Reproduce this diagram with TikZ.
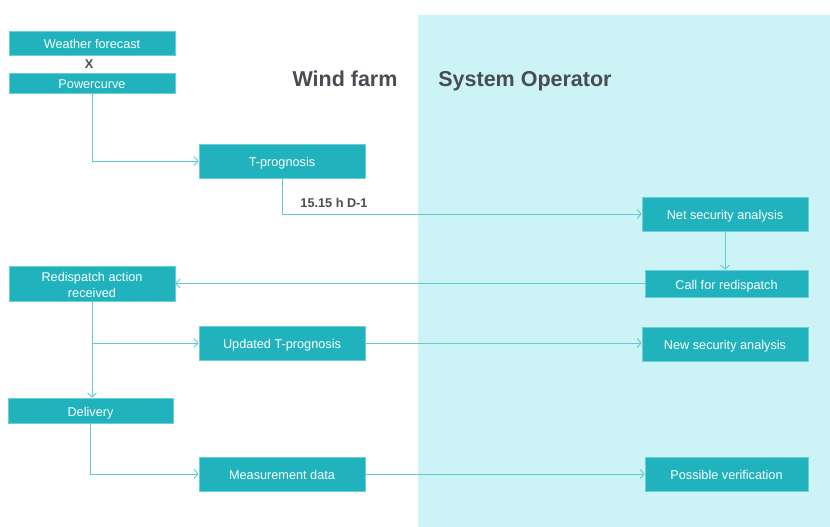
\documentclass[tikz,border=0pt]{standalone}
\usepackage{fontspec}
\setmainfont{Liberation Sans}
\usetikzlibrary{arrows.meta}

\definecolor{opbg}{HTML}{CCF3F5}
\definecolor{boxfill}{HTML}{21B3BD}
\definecolor{boxline}{HTML}{6CCFD6}
\definecolor{flowline}{HTML}{62CAD2}
\definecolor{heading}{HTML}{474D53}

\begin{document}
\begin{tikzpicture}[x=1pt,y=-1pt,
  stepbox/.style={fill=boxfill, draw=boxline, line width=0.7pt, text=white,
    font=\fontsize{12.7}{16}\selectfont, align=center, inner sep=0pt,
    minimum width=166pt, minimum height=34pt},
  oneline/.style={stepbox, text height=11pt, text depth=0pt},
  flow/.style={draw=flowline, line width=0.9pt,
    -{Straight Barb[length=4pt,width=9pt,line width=0.9pt]}},
  title/.style={font=\fontsize{21.5}{24}\selectfont\bfseries, text=heading, anchor=base},
  tag/.style={font=\fontsize{12.7}{14}\selectfont\bfseries, text=heading}]

  % canvas and the System Operator area
  \useasboundingbox (0,0) rectangle (830,527);
  \fill[white] (0,0) rectangle (830,527);
  \fill[opbg] (418,15) rectangle (830,527);

  % column headings
  \node[title] (hwind) at (345,86) {Wind farm};
  \node[title] (hso) at (525,86) {System Operator};

  % wind farm side
  \node[oneline, minimum height=24pt] (weather) at (92,43) {Weather forecast};
  \node[tag] (times) at (89,64) {X};
  \node[oneline, minimum height=20pt] (power) at (92,83) {Powercurve};
  \node[oneline] (tprog) at (282,161) {T-prognosis};
  \node[stepbox, minimum height=35pt] (recv) at (92,283.5) {\strut Redispatch action\\received};
  \node[oneline] (upd) at (282,343) {Updated T-prognosis};
  \node[oneline, minimum height=25pt, minimum width=165pt] (deliv) at (90.5,410.5) {Delivery};
  \node[oneline] (meas) at (282,474) {Measurement data};

  % system operator side
  \node[oneline] (net) at (725,214) {Net security analysis};
  \node[oneline, minimum width=163pt, minimum height=27pt] (call) at (726.5,283.5) {Call for redispatch};
  \node[oneline] (newsec) at (725,344) {New security analysis};
  \node[oneline, minimum width=163pt] (verif) at (726.5,474) {Possible verification};

  % information flow
  \draw[flow] (power.south) |- (tprog.west);
  \draw[flow] (tprog.south) |- (net.west);
  \node[tag] (deadline) at (334,203) {15.15 h D-1};
  \draw[flow] (net.south) -- (net.south |- call.north);
  \draw[flow] (call.west) -- (call.west -| recv.east);
  \draw[flow] (recv.south) |- (upd.west);
  \draw[flow] (recv.south) -- (recv.south |- deliv.north);
  \draw[flow] (upd.east) -- (upd.east -| newsec.west);
  \draw[flow] (deliv.south) |- (meas.west);
  \draw[flow] (meas.east) -- (verif.west);
\end{tikzpicture}
\end{document}
